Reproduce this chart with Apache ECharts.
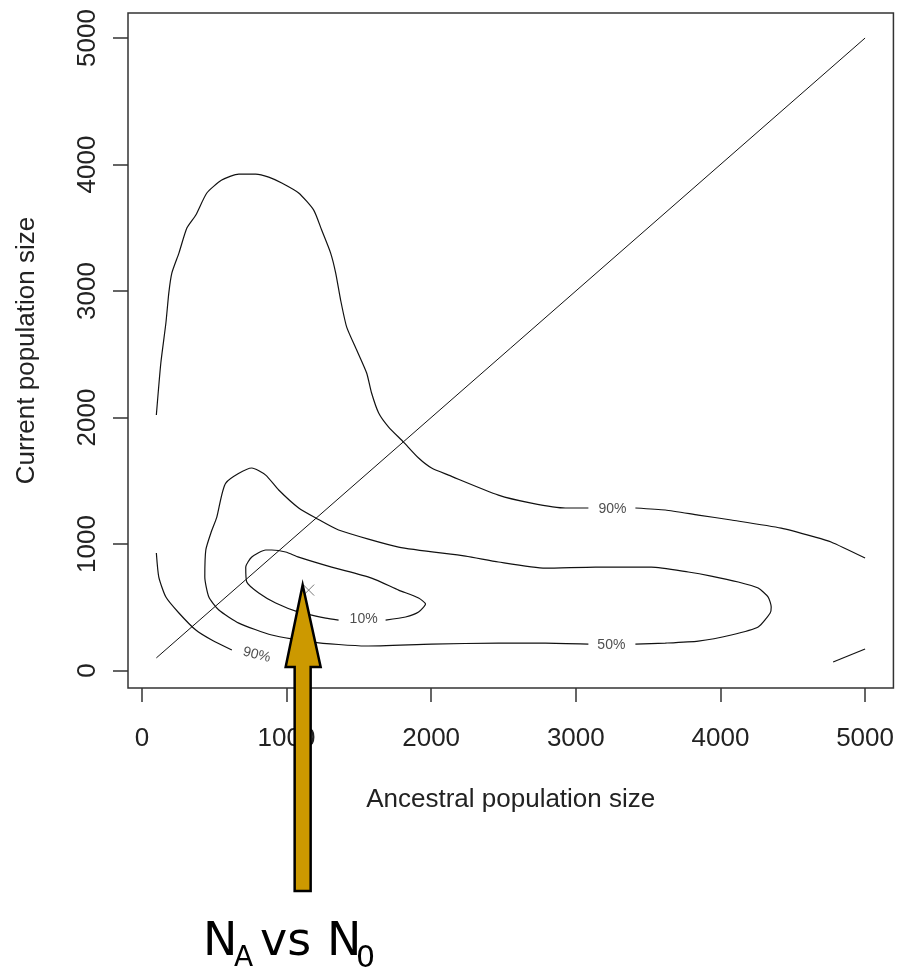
<!DOCTYPE html>
<html>
<head>
<meta charset="utf-8">
<script src="https://cdn.jsdelivr.net/npm/echarts@6/dist/echarts.min.js"></script>
<style>
html,body{margin:0;padding:0;background:#fff;}
#c{width:897px;height:971px;}
</style>
</head>
<body>
<div id="c"></div>
<script>
// ---- data ----
const xTicks = [0, 1000, 2000, 3000, 4000, 5000];
const yTicks = [0, 1000, 2000, 3000, 4000, 5000];

// 1:1 reference line
const diagonal = [[100, 100], [5000, 5000]];

// outer 90% contour (split around its label)
const c90OuterA = [
  [100,2020],[131,2431],[166,2747],[186,2984],[207,3142],[256,3300],[311,3498],[373,3601],
  [449,3775],[552,3877],[670,3925],[787,3925],[877,3901],[967,3854],[1084,3775],[1188,3640],
  [1243,3482],[1305,3300],[1340,3142],[1374,2929],[1416,2715],[1485,2534],[1554,2352],
  [1588,2194],[1637,2036],[1706,1925],[1809,1806],[1913,1680],[2003,1601],[2120,1545],
  [2465,1387],[2693,1324],[2928,1285],[3087,1285]
];
const c90OuterB = [
  [3412,1285],[3619,1269],[3847,1229],[4075,1190],[4420,1126],[4655,1055],[4765,1016],[5000,889]
];
// 90% contour, lower-left piece
const c90Low = [
  [100,929],[117,739],[166,581],[256,455],[373,320],[483,241],[622,162]
];
// 90% contour, lower-right piece
const c90Corner = [[4779,67],[5000,170]];

// 50% contour (split around its label)
const c50A = [
  [3087,209],[2790,217],[2465,217],[2003,209],[1547,194],[1174,225],[898,281],[670,375],
  [532,478],[463,581],[435,739],[442,953],[477,1087],[518,1213],[580,1482],[760,1601],
  [856,1545],[946,1427],[1084,1285],[1202,1206],[1360,1111],[1775,976],[2238,905],
  [2465,858],[2790,810],[3135,818],[3522,818],[3778,779],[3936,747],[4123,700],[4261,652],
  [4330,581],[4351,502],[4344,455],[4261,344],[4075,281],[3847,233],[3619,217],[3412,209]
];

// 10% contour (split around its label)
const c10A = [
  [1360,399],[1271,415],[1084,462],[925,534],[808,613],[725,700],[718,818],[760,897],
  [856,953],[898,953],[994,937],[1084,897],[1312,818],[1588,731],[1775,636],[1913,573],
  [1961,526],[1913,462],[1823,423],[1685,399]
];

// contour labels
const labelText = ['90%', '50%', '10%', '90%'];
const labelX = [3253, 3246, 1533, 794];
const labelY = [1277, 202, 407, 123];

// marked estimate
const markX = [1153];
const markY = [636];

// ---- chart ----
const chart = echarts.init(document.getElementById('c'));
const FONT = "'Liberation Sans', Arial, Helvetica, sans-serif";
const lineStyle = { color: '#111', width: 1.2 };

function contour(data) {
  return {
    type: 'line', data: data, showSymbol: false, symbol: 'none', silent: true,
    smooth: 0.2, lineStyle: lineStyle, z: 2
  };
}

const labelRot = [0, 0, 0, -14];

const option = {
  animation: false,
  backgroundColor: '#fff',
  grid: {
    left: 128, top: 13, right: 2, bottom: 283,
    show: true, borderColor: '#333', borderWidth: 1.5, backgroundColor: 'transparent'
  },
  xAxis: {
    type: 'value', min: -96, max: 5196,
    name: 'Ancestral population size', nameLocation: 'middle', nameGap: 99,
    nameTextStyle: { fontFamily: FONT, fontSize: 26, color: '#222' },
    axisLine: { show: false, onZero: false },
    splitLine: { show: false },
    axisTick: { show: true, customValues: xTicks, length: 14, inside: false,
                lineStyle: { color: '#333', width: 1.5 } },
    axisLabel: { customValues: xTicks, margin: 38, fontFamily: FONT, fontSize: 26, color: '#222',
                 formatter: v => String(v) }
  },
  yAxis: {
    type: 'value', min: -138, max: 5198,
    name: 'Current population size', nameLocation: 'middle', nameGap: 88,
    nameRotate: 90,
    nameTextStyle: { fontFamily: FONT, fontSize: 26, color: '#222' },
    axisLine: { show: false, onZero: false },
    splitLine: { show: false },
    axisTick: { show: true, customValues: yTicks, length: 15, inside: false,
                lineStyle: { color: '#333', width: 1.5 } },
    axisLabel: { customValues: yTicks, margin: 27, rotate: 90, fontFamily: FONT, fontSize: 26,
                 color: '#222', formatter: v => String(v) }
  },
  series: [
    { type: 'line', data: diagonal, showSymbol: false, symbol: 'none', silent: true,
      lineStyle: { color: '#111', width: 1 }, z: 2 },
    contour(c90OuterA), contour(c90OuterB), contour(c90Low), contour(c90Corner),
    contour(c50A), contour(c10A),
    {
      type: 'scatter', symbolSize: 0, silent: true, z: 3,
      data: labelText.map((t, i) => ({
        value: [labelX[i], labelY[i]], name: t,
        label: { rotate: labelRot[i] }
      })),
      label: { show: true, position: 'inside', formatter: p => p.name,
               fontFamily: FONT, fontSize: 14, color: '#222' }
    },
    {
      type: 'scatter', silent: true, z: 4,
      data: markX.map((x, i) => [x, markY[i]]),
      symbol: 'path://M0,0L10,10M10,0L0,10', symbolSize: 11,
      itemStyle: { color: 'none', borderColor: '#555', borderWidth: 1 }
    }
  ]
};
chart.setOption(option);

// arrow pointing at the mark, and the caption beneath it
const tip = chart.convertToPixel({ gridIndex: 0 }, [markX[0], markY[0]]);
const tx = tip[0] - 6, ty = tip[1] - 5;
const CAP = "'DejaVu Sans', Verdana, sans-serif";
chart.setOption({
  graphic: [
    { type: 'polygon', z: 100,
      shape: { points: [[tx, ty], [tx + 18, ty + 82], [tx + 8, ty + 82], [tx + 8, ty + 306],
                        [tx - 8, ty + 306], [tx - 8, ty + 82], [tx - 17, ty + 82]] },
      style: { fill: '#CC9900', stroke: '#000', lineWidth: 2.5, lineJoin: 'miter' } },
    { type: 'text', z: 100, left: 203, top: 920,
      style: { text: 'N', font: "46px " + CAP, fill: '#000' } },
    { type: 'text', z: 100, left: 234, top: 945,
      style: { text: 'A', font: "28px " + CAP, fill: '#000' } },
    { type: 'text', z: 100, left: 260, top: 920,
      style: { text: 'vs', font: "46px " + CAP, fill: '#000' } },
    { type: 'text', z: 100, left: 327, top: 920,
      style: { text: 'N', font: "46px " + CAP, fill: '#000' } },
    { type: 'text', z: 100, left: 356, top: 944,
      style: { text: '0', font: "30px " + CAP, fill: '#000' } }
  ]
});
</script>
</body>
</html>
